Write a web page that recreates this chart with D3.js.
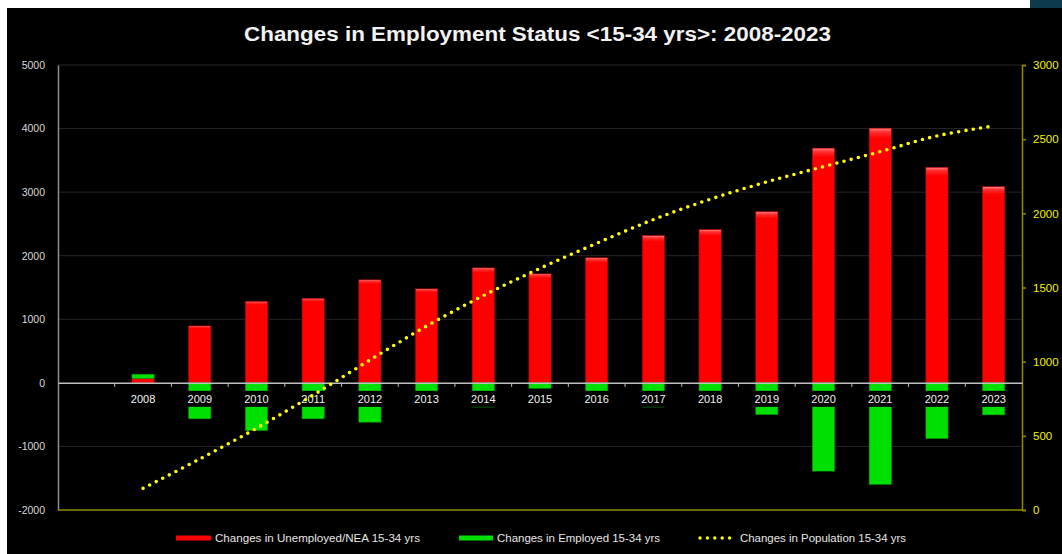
<!DOCTYPE html>
<html>
<head>
<meta charset="utf-8">
<script src="https://cdn.jsdelivr.net/npm/d3@7/dist/d3.min.js"></script>
<style>
  html, body { margin: 0; padding: 0; background: #ffffff; }
  svg { display: block; }
  text { font-family: "Liberation Sans", "DejaVu Sans", sans-serif; }
</style>
</head>
<body>
<svg id="chart" width="1062" height="554"></svg>
<script>
// Category slots: a leading empty slot, then the years
const years = ["2008","2009","2010","2011","2012","2013","2014","2015",
               "2016","2017","2018","2019","2020","2021","2022","2023"];
const categories = [""].concat(years);

// Changes in Unemployed/NEA 15-34 yrs (left axis)
const unemployedNEA = [70, 895, 1281, 1328, 1620, 1478, 1808, 1714,
                       1967, 2316, 2410, 2692, 3692, 4006, 3390, 3086];
// Changes in Employed 15-34 yrs (left axis)
const employed = [65, -565, -749, -565, -618, -260, -380, -85,
                  -230, -380, -290, -498, -1388, -1597, -875, -503];
// Changes in Population 15-34 yrs (right axis)
const population = [146, 344, 551, 775, 1011, 1240, 1445, 1629,
                    1798, 1958, 2095, 2212, 2315, 2416, 2522, 2589];

const leftTicks = [-2000, -1000, 0, 1000, 2000, 3000, 4000, 5000];
const rightTicks = [0, 500, 1000, 1500, 2000, 2500, 3000];

const titleText = "Changes in Employment Status <15-34 yrs>: 2008-2023";
const seriesNames = ["Changes in Unemployed/NEA 15-34 yrs",
                     "Changes in Employed 15-34 yrs",
                     "Changes in Population 15-34 yrs"];

const plainNum = d => String(d);

const svg = d3.select("#chart");

// Frame: white page, teal corner block, black chart area
svg.append("rect").attr("x", 0).attr("y", 0).attr("width", 1062).attr("height", 554).attr("fill", "#ffffff");
svg.append("rect").attr("x", 1030).attr("y", 0).attr("width", 32).attr("height", 8).attr("fill", "#0e3b4c");
svg.append("rect").attr("x", 7).attr("y", 8).attr("width", 1055).attr("height", 546).attr("fill", "#000000");

const defs = svg.append("defs");
const gRed = defs.append("linearGradient").attr("id", "gradRed").attr("x1", 0).attr("y1", 0).attr("x2", 0).attr("y2", 1);
gRed.append("stop").attr("offset", "0%").attr("stop-color", "#ff8080");
gRed.append("stop").attr("offset", "1.5%").attr("stop-color", "#ff3030");
gRed.append("stop").attr("offset", "4%").attr("stop-color", "#ff0000");
gRed.append("stop").attr("offset", "100%").attr("stop-color", "#ff0000");

// Scales
const x = d3.scaleBand().domain(categories).range([58, 1022]).padding(0);
const yL = d3.scaleLinear().domain([-2000, 5000]).range([510, 65]);
const yR = d3.scaleLinear().domain([0, 3000]).range([510, 65]);
const barW = x.bandwidth() * 0.39;
const cx = d => x(d) + x.bandwidth() / 2;

// Title
svg.append("text")
  .attr("x", 537.5).attr("y", 41)
  .attr("text-anchor", "middle")
  .attr("fill", "#f2f2f2")
  .attr("font-size", 20).attr("font-weight", "bold")
  .attr("textLength", 587).attr("lengthAdjust", "spacingAndGlyphs")
  .text(titleText);

// Gridlines
svg.append("g").selectAll("line")
  .data(leftTicks.filter(t => t !== 0 && t !== -2000))
  .join("line")
  .attr("x1", 58).attr("x2", 1022)
  .attr("y1", d => yL(d)).attr("y2", d => yL(d))
  .attr("stroke", "#262626").attr("stroke-width", 1);

// Left axis
const axL = svg.append("g").attr("transform", "translate(58,0)")
  .call(d3.axisLeft(yL).tickValues(leftTicks).tickFormat(plainNum).tickSize(0).tickPadding(13));
axL.select(".domain").attr("stroke", "#8c8c8c").attr("stroke-width", 1.5);
axL.selectAll("text").attr("fill", "#d9d9d9").attr("font-size", 10.5);

// Bottom (secondary) baseline
svg.append("line")
  .attr("x1", 58).attr("x2", 1022)
  .attr("y1", yL(-2000)).attr("y2", yL(-2000))
  .attr("stroke", "#8c8c00").attr("stroke-width", 1.5);

// Right axis
const axR = svg.append("g").attr("transform", "translate(1022,0)")
  .call(d3.axisRight(yR).tickValues(rightTicks).tickFormat(plainNum).tickSize(4).tickSizeOuter(4).tickPadding(7));
axR.select(".domain").attr("stroke", "#8c8c00").attr("stroke-width", 1.5);
axR.selectAll(".tick line").attr("stroke", "#8c8c00").attr("stroke-width", 1.5);
axR.selectAll("text").attr("fill", "#f0f000").attr("font-size", 11.5);

// Stacked bars: red from zero; green stacks on red when positive, else below zero
const rows = years.map((yr, i) => {
  const u = unemployedNEA[i], e = employed[i];
  return {
    year: yr,
    red: [0, u],
    green: e >= 0 ? [Math.max(u, 0), Math.max(u, 0) + e] : [0, e]
  };
});

svg.append("g").selectAll("rect")
  .data(rows).join("rect")
  .attr("x", d => cx(d.year) - barW / 2)
  .attr("width", barW)
  .attr("y", d => yL(Math.max(d.red[0], d.red[1])))
  .attr("height", d => Math.abs(yL(d.red[0]) - yL(d.red[1])))
  .attr("fill", "url(#gradRed)")
  .attr("stroke", "#c00000").attr("stroke-width", 0.6);

svg.append("g").selectAll("rect")
  .data(rows).join("rect")
  .attr("x", d => cx(d.year) - barW / 2)
  .attr("width", barW)
  .attr("y", d => yL(Math.max(d.green[0], d.green[1])))
  .attr("height", d => Math.abs(yL(d.green[0]) - yL(d.green[1])))
  .attr("fill", "#00e000")
  .attr("stroke", "#00a000").attr("stroke-width", 0.6);

// Category axis on the zero line
const axX = svg.append("g").attr("transform", `translate(0,${yL(0)})`)
  .call(d3.axisBottom(x).tickSize(0).tickPadding(12).tickSizeOuter(0));
axX.select(".domain").attr("stroke", "#bfbfbf").attr("stroke-width", 1.5);
axX.selectAll(".tick").each(function(d) {
  const t = d3.select(this);
  if (d === "") { t.remove(); return; }
  t.insert("rect", "text")
    .attr("x", -barW / 2 - 2).attr("y", 8)
    .attr("width", barW + 4).attr("height", 16)
    .attr("fill", "#000000");
});
axX.selectAll("text").attr("fill", "#f2f2f2").attr("font-size", 11);
// Tick marks at slot boundaries
axX.append("g").selectAll("line")
  .data(categories.slice(1))
  .join("line")
  .attr("x1", d => x(d)).attr("x2", d => x(d))
  .attr("y1", 0).attr("y2", 4)
  .attr("stroke", "#bfbfbf").attr("stroke-width", 1);

// Population line (right axis), round dotted
const line = d3.line()
  .x((d, i) => cx(years[i]))
  .y(d => yR(d))
  .curve(d3.curveCatmullRom.alpha(0.5));
svg.append("path")
  .datum(population)
  .attr("d", line)
  .attr("fill", "none")
  .attr("stroke", "#ffff00")
  .attr("stroke-width", 3.6)
  .attr("stroke-linecap", "round")
  .attr("stroke-dasharray", "0 7.4");

// Legend
const legY = 538;
const leg = svg.append("g");
leg.append("rect").attr("x", 176).attr("y", legY - 2.5).attr("width", 35).attr("height", 5).attr("fill", "#ff0000");
leg.append("text").attr("x", 215).attr("y", legY + 4).attr("fill", "#e6e6e6").attr("font-size", 10.5)
  .attr("textLength", 205).attr("lengthAdjust", "spacingAndGlyphs").text(seriesNames[0]);
leg.append("rect").attr("x", 459).attr("y", legY - 2.5).attr("width", 34).attr("height", 5).attr("fill", "#00e000");
leg.append("text").attr("x", 497).attr("y", legY + 4).attr("fill", "#e6e6e6").attr("font-size", 10.5)
  .attr("textLength", 163).attr("lengthAdjust", "spacingAndGlyphs").text(seriesNames[1]);
leg.append("line").attr("x1", 700).attr("x2", 734).attr("y1", legY).attr("y2", legY)
  .attr("stroke", "#ffff00").attr("stroke-width", 3.4).attr("stroke-linecap", "round").attr("stroke-dasharray", "0 7.4");
leg.append("text").attr("x", 740).attr("y", legY + 4).attr("fill", "#e6e6e6").attr("font-size", 10.5)
  .attr("textLength", 166).attr("lengthAdjust", "spacingAndGlyphs").text(seriesNames[2]);
</script>
</body>
</html>
